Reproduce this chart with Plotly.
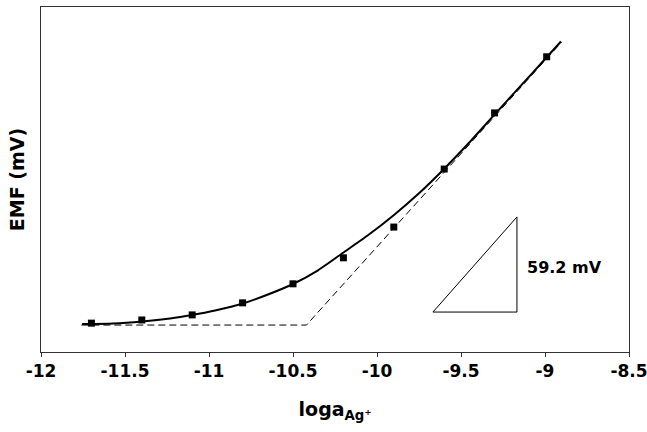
import plotly.graph_objects as go

# measured data points (log a_Ag+, EMF in mV, arbitrary offset)
loga_points = [-11.70, -11.40, -11.10, -10.80, -10.50, -10.20, -9.90, -9.60, -9.30, -8.99]
emf_points = [9.1, 10.1, 11.7, 15.5, 21.5, 29.7, 39.4, 57.7, 75.4, 93.1]

# smooth fitted curve
loga_fit = [-11.756, -11.571, -11.399, -11.232, -11.101, -10.964, -10.798, -10.649, -10.500,
            -10.351, -10.202, -10.054, -9.899, -9.750, -9.601, -9.452, -9.298, -9.149,
            -8.994, -8.905]
emf_fit = [8.83, 8.99, 9.62, 10.57, 11.67, 13.09, 15.30, 18.14, 21.45,
           25.77, 31.29, 36.81, 43.22, 50.06, 57.73, 65.99, 75.02, 83.69,
           92.71, 97.92]

# Nernstian asymptotes (dashed)
loga_asym = [-11.76, -10.42, -8.90]
emf_asym = [8.5, 8.5, 97.8]

# slope triangle (59.2 mV / decade)
tri_x = [-9.667, -9.167, -9.167, -9.667]
tri_y = [12.6, 12.6, 42.6, 12.6]
slope_label = "59.2 mV"

x_tickvals = [-12, -11.5, -11, -10.5, -10, -9.5, -9, -8.5]
x_ticktext = ["-12", "-11.5", "-11", "-10.5", "-10", "-9.5", "-9", "-8.5"]

FONT = "DejaVu Sans"

fig = go.Figure()
fig.add_trace(go.Scatter(x=loga_asym, y=emf_asym, mode="lines",
                         line=dict(color="black", width=1, dash="7px,4px"),
                         hoverinfo="skip", showlegend=False))
fig.add_trace(go.Scatter(x=loga_fit, y=emf_fit, mode="lines",
                         line=dict(color="black", width=2, shape="spline", smoothing=0.6),
                         showlegend=False))
fig.add_trace(go.Scatter(x=loga_points, y=emf_points, mode="markers",
                         marker=dict(symbol="square", size=7, color="black"),
                         showlegend=False))
fig.add_trace(go.Scatter(x=tri_x, y=tri_y, mode="lines",
                         line=dict(color="black", width=1),
                         hoverinfo="skip", showlegend=False))

fig.add_annotation(x=-9.12, y=26.5, text=slope_label, showarrow=False,
                   xanchor="left", yanchor="middle",
                   font=dict(family=FONT, size=16, color="black", weight="bold"))

fig.update_xaxes(range=[-12, -8.5], tickvals=x_tickvals, ticktext=x_ticktext,
                 ticks="outside", ticklen=4, tickcolor="#333", tickwidth=1,
                 showline=True, linecolor="#333", linewidth=1, mirror=True,
                 showgrid=False, zeroline=False, automargin=False,
                 ticklabeloverflow="allow",
                 tickfont=dict(family=FONT, size=17, color="black", weight="bold"),
                 title=dict(text="loga<sub>Ag⁺</sub>", standoff=22,
                            font=dict(family=FONT, size=19, color="black", weight="bold")))
fig.update_yaxes(range=[0, 108.8], showticklabels=False, ticks="",
                 showline=True, linecolor="#333", linewidth=1, mirror=True,
                 showgrid=False, zeroline=False, automargin=False,
                 title=dict(text="EMF (mV)", standoff=10,
                            font=dict(family=FONT, size=19, color="black", weight="bold")))

fig.update_layout(width=647, height=432,
                  margin=dict(l=41, r=18, t=7, b=80),
                  plot_bgcolor="white", paper_bgcolor="white")

fig.write_html("out.html", config={"displayModeBar": False},
               post_script="document.body.style.margin='0';")
